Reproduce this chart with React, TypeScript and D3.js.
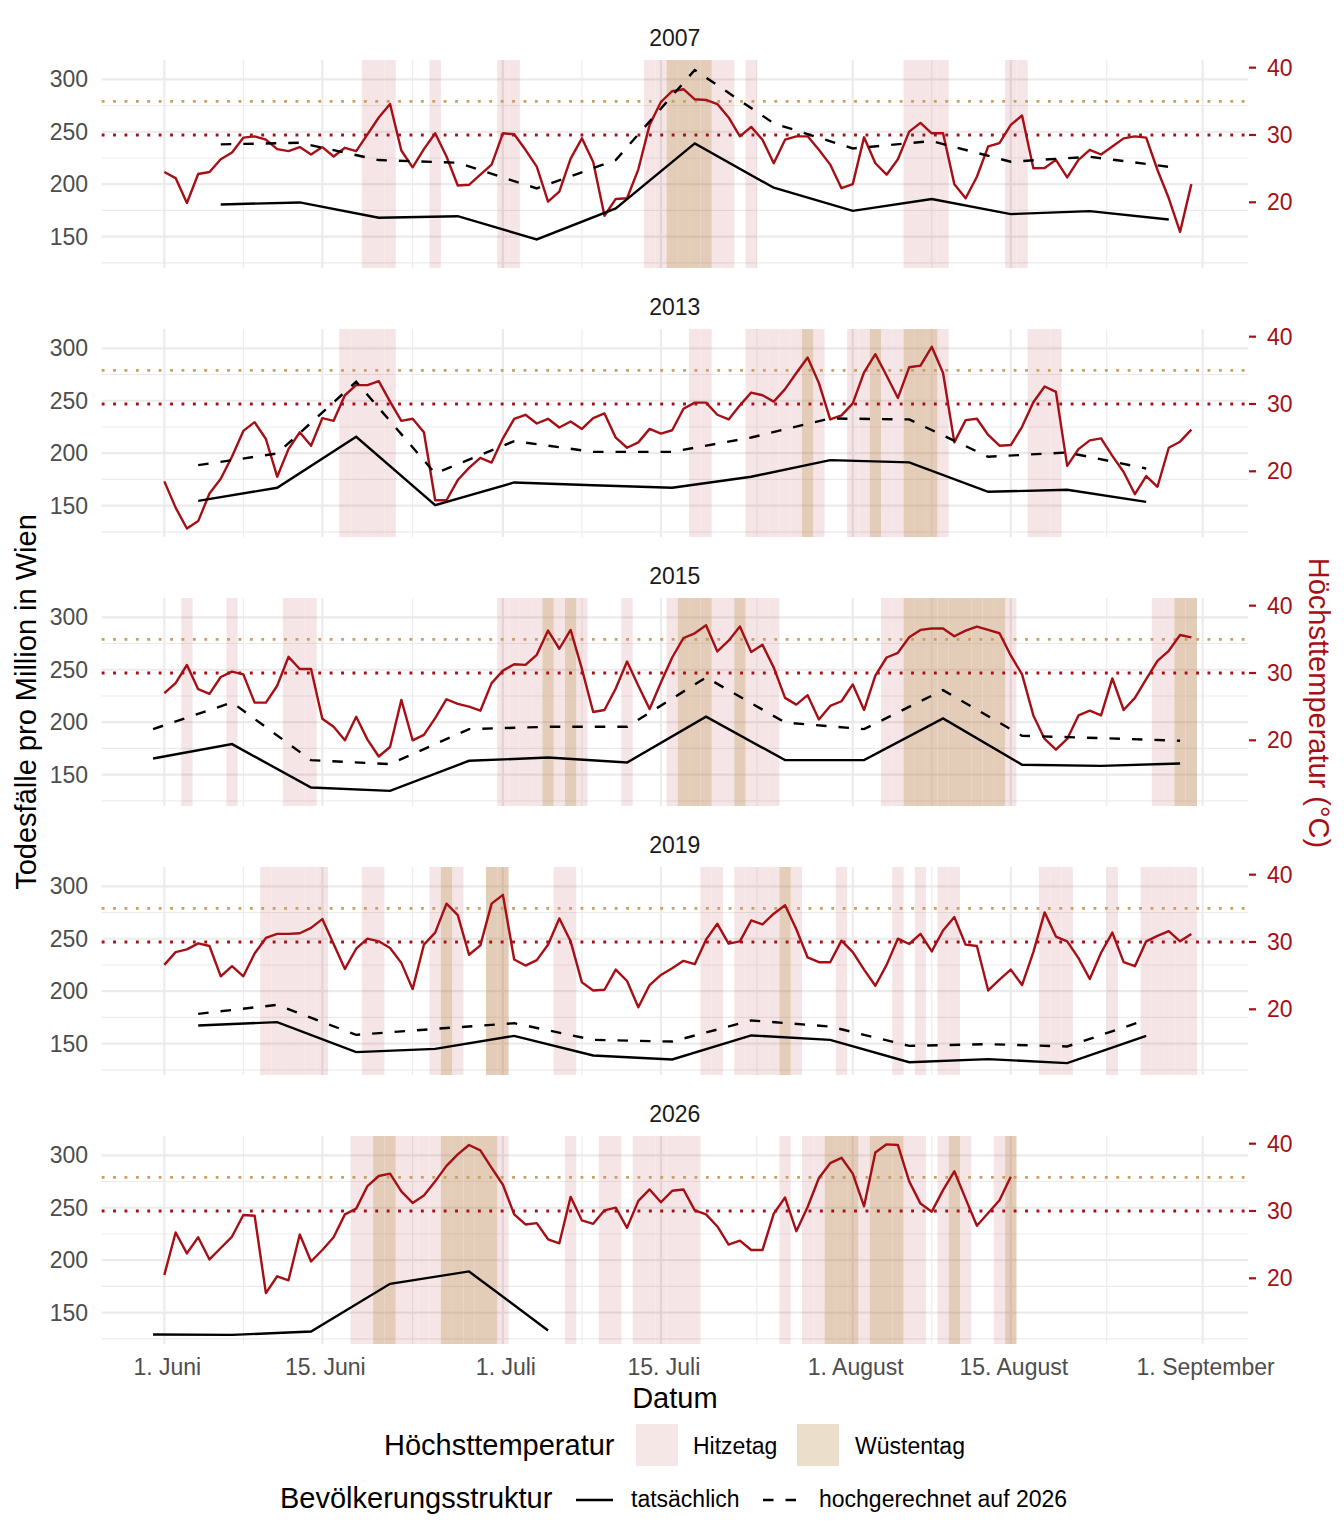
import React, { useEffect, useRef } from 'react';
import * as d3 from 'd3';

// Tägliche Höchsttemperatur (°C), ab 1. Juni
const tempStart = '06-01';
const temp2007 = [
  24.5, 23.6, 19.9, 24.2, 24.5, 26.4, 27.4, 29.6, 29.8, 29.3, 27.9, 27.6, 28.2, 27.1, 28.2, 26.8, 28.1, 27.6, 30.1, 32.6,
  34.6, 27.7, 25.2, 27.9, 30.25, 26.8, 22.5, 22.6, 24.1, 25.6,
  30.25, 30.1, 27.8, 25.3, 20.1, 21.6, 26.5, 29.5, 26.0, 18.0, 20.5, 20.6, 24.9, 31.5, 34.9, 36.5, 36.8, 35.3, 35.2, 34.6,
  32.6, 29.8, 31.2, 29.3, 25.8, 29.3, 29.8, 29.8, 27.8, 25.6, 22.1,
  22.7, 29.65, 25.8, 24.1, 26.4, 30.5, 31.8, 30.25, 30.25, 22.7, 20.6, 23.8, 28.3, 28.8, 31.5, 32.9, 25.05, 25.1, 26.3, 23.7,
  26.3, 27.8, 27.1, 28.3, 29.5, 29.8, 29.6, 24.8, 20.6, 15.6, 22.7,
];
const temp2013 = [
  18.5, 14.6, 11.5, 12.6, 16.7, 18.9, 22.2, 26.0, 27.3, 24.8, 19.2, 23.3, 25.8, 23.8, 27.9, 27.5, 31.3, 32.8, 32.8, 33.4,
  30.35, 27.5, 27.8, 25.8, 15.7, 15.7, 18.7, 20.5, 22.0, 21.3, 24.9, 27.8, 28.4, 27.1, 27.8, 26.5, 27.4, 26.3, 27.9, 28.6,
  25.0, 23.5, 24.3, 26.3, 25.6, 26.1, 29.3,
  30.2, 30.2, 28.4, 27.7, 29.8, 31.7, 31.3, 30.35, 32.2, 34.6, 36.9, 33.1, 27.7, 28.3, 30.1, 34.7, 37.4, 34.2, 30.9, 35.45,
  35.7, 38.5, 34.6, 24.3, 27.6, 27.8, 25.4, 23.8, 23.9, 26.6, 30.25, 32.6, 31.8, 20.8, 23.3, 24.6, 24.9, 22.3, 19.9, 16.6,
  19.3, 17.7, 23.5, 24.4, 26.2,
];
const temp2015 = [
  27.0, 28.5, 31.2, 27.6, 26.9, 29.4, 30.2, 29.8, 25.6, 25.6, 28.1, 32.4, 30.6, 30.6, 23.2, 22.0, 20.0, 23.5, 20.1, 17.6,
  19.0, 26.0, 20.0, 20.8, 23.3, 26.1, 25.4, 25.0, 24.4, 28.5, 30.35, 31.3, 31.2, 32.7, 36.3, 33.6, 36.4, 30.6, 24.2, 24.5,
  27.7, 31.7, 28.1, 24.65, 28.6, 32.3, 35.2,
  35.9, 37.1, 33.2, 34.8, 36.9, 33.1, 34.2, 30.8, 26.3, 25.3, 26.7, 23.1, 25.1, 25.8, 28.3, 24.5, 29.6, 32.3, 33.0, 35.3,
  36.4, 36.6, 36.6, 35.45, 36.3, 36.9, 36.4, 35.9, 32.6, 29.8, 23.7, 20.2, 18.6, 20.2, 23.7, 24.4, 23.7, 29.2, 24.5, 26.3,
  29.1, 31.8, 33.3, 35.65, 35.3,
];
const temp2019 = [
  26.6, 28.5, 28.9, 29.8, 29.4, 24.9, 26.4, 24.9, 28.3, 30.6, 31.2, 31.2, 31.3, 32.1, 33.4, 29.7, 26.0, 29.0, 30.5, 30.1,
  29.1, 26.9, 23.0, 29.6, 31.4, 35.7, 34.0, 28.1, 29.5, 35.7, 37.0, 27.4, 26.5, 27.3, 29.6, 33.5, 30.1, 24.0, 22.8, 22.9,
  25.9, 24.2, 20.3, 23.6, 25.1, 26.1, 27.2,
  26.7, 30.35, 32.7, 29.75, 30.1, 33.2, 32.6, 34.2, 35.45, 31.9, 27.7, 27.0, 27.0, 30.2, 28.5, 25.9, 23.5, 26.6, 30.5, 29.7,
  31.2, 28.6, 31.7, 33.7, 29.6, 29.4, 22.8, 24.4, 25.9, 23.6, 28.5, 34.4, 30.8, 30.1, 27.6, 24.5, 28.4, 31.4, 27.0, 26.4,
  30.1, 30.9, 31.6, 30.1, 31.2,
];
const temp2026 = [
  20.5, 26.8, 23.7, 26.1, 22.8, 24.5, 26.2, 29.4, 29.3, 17.8, 20.3, 19.7, 26.5, 22.5, 24.2, 26.1, 29.5, 30.35, 33.7, 35.2,
  35.55, 32.9, 31.2, 32.3, 34.4, 36.7, 38.4, 39.8, 39.0, 36.4, 33.9, 29.5, 28.0, 28.2, 25.8, 25.2, 32.1, 28.6, 28.1, 30.1,
  30.5, 27.5, 31.5, 33.2, 31.3, 33.0, 33.2,
  30.1, 29.5, 27.7, 25.0, 25.6, 24.2, 24.2, 29.6, 32.0, 27.0, 30.6, 34.9, 37.1, 37.9, 35.55, 30.7, 38.7, 39.9, 39.8, 34.4,
  31.1, 29.9, 33.1, 35.9, 31.8, 27.8, 29.7, 31.6, 35.1,
];

// Wöchentliche Todesfälle pro Million
const weeks2007 = ['06-06', '06-13', '06-20', '06-27', '07-04', '07-11', '07-18', '07-25', '08-01', '08-08', '08-15', '08-22', '08-29'];
const actual2007 = [180.7, 182.6, 168, 169.5, 147.3, 176.9, 238.9, 196.6, 174.6, 185.8, 171.5, 174.3, 166.4];
const projected2007 = [238, 239.5, 223, 220.4, 196, 223, 308.9, 258, 234.1, 241.1, 221.4, 226.1, 216.6];

const weeks2013 = ['06-04', '06-11', '06-18', '06-25', '07-02', '07-09', '07-16', '07-23', '07-30', '08-06', '08-13', '08-20', '08-27'];
const actual2013 = [154.6, 167, 215.6, 150.4, 172.1, 169.5, 167, 177.5, 193.4, 191.2, 163.2, 165.1, 153.6];
const projected2013 = [188.6, 199.7, 268.1, 180.7, 211.5, 201.3, 201.3, 215, 233.1, 232.2, 196.6, 200.7, 185.4];

const weeks2015 = ['05-31', '06-07', '06-14', '06-21', '06-28', '07-05', '07-12', '07-19', '07-26', '08-02', '08-09', '08-16', '08-23', '08-30'];
const actual2015 = [165.4, 179.1, 137.7, 134.5, 163.2, 166.3, 161.6, 205.2, 163.8, 163.8, 203.6, 159.4, 158.4, 160.6];
const projected2015 = [193.4, 218.8, 163.8, 160.0, 193.4, 195.6, 195.6, 242.7, 199.7, 193.4, 230.6, 187, 184.8, 182.3];

const weeks2019 = ['06-04', '06-11', '06-18', '06-25', '07-02', '07-09', '07-16', '07-23', '07-30', '08-06', '08-13', '08-20', '08-27'];
const actual2019 = [167.3, 170.5, 141.9, 145, 157.4, 138.7, 134.9, 157.8, 153.6, 132.3, 135.2, 131.4, 157.4];
const projected2019 = [178.4, 187, 158.4, 164.1, 169.5, 153.6, 152, 172.1, 166.3, 147.9, 149.5, 147.3, 172.7];

const weeks2026 = ['05-31', '06-07', '06-14', '06-21', '06-28', '07-05'];
const actual2026 = [129.1, 128.8, 132, 177.5, 189.3, 132.9];

const xTicks = ['06-01', '06-15', '07-01', '07-15', '08-01', '08-15', '09-01'];
const xTickLabels = ['1. Juni', '15. Juni', '1. Juli', '15. Juli', '1. August', '15. August', '1. September'];
const deathTicks = [150, 200, 250, 300];
const deathMinor = [125, 175, 225, 275];
const tempTicks = [20, 30, 40];
const hitzeGrenze = 30;
const wuestenGrenze = 35;

const panels = [
  { year: '2007', temp: temp2007, weeks: weeks2007, actual: actual2007, projected: projected2007 },
  { year: '2013', temp: temp2013, weeks: weeks2013, actual: actual2013, projected: projected2013 },
  { year: '2015', temp: temp2015, weeks: weeks2015, actual: actual2015, projected: projected2015 },
  { year: '2019', temp: temp2019, weeks: weeks2019, actual: actual2019, projected: projected2019 },
  { year: '2026', temp: temp2026, weeks: weeks2026, actual: actual2026, projected: null as number[] | null },
];

const md = (s: string) => {
  const [m, d] = s.split('-').map(Number);
  return new Date(Date.UTC(2026, m - 1, d));
};

const App: React.FC = () => {
  const svgRef = useRef<SVGSVGElement>(null);

  useEffect(() => {
    if (!svgRef.current) return;

    const width = 1344;
    const height = 1536;
    const left = 101.7;
    const right = 1248;
    const panelTop = 60;
    const panelH = 208;
    const panelStep = 269;
    const font = '"Liberation Sans", Arial, Helvetica, sans-serif';
    const red = '#A50F15';
    const tanLine = '#C9A063';
    const tanFill = '#BC9452';
    const grid = '#EBEBEB';

    const svg = d3.select(svgRef.current)
      .attr('width', width)
      .attr('height', height)
      .style('font-family', font)
      .html('');

    svg.append('rect').attr('width', width).attr('height', height).attr('fill', '#fff');

    const dayMs = 864e5;
    const june1 = md(tempStart).getTime();
    const x = d3.scaleUtc()
      .domain([new Date(june1 - 5.55 * dayMs), new Date(june1 + 96.02 * dayMs)])
      .range([left, right]);

    const majorDates = xTicks.map(md);
    const minorDates = majorDates.slice(1).map((d, i) => new Date((d.getTime() + majorDates[i].getTime()) / 2));

    panels.forEach((p, i) => {
      const top = panelTop + i * panelStep;
      const bottom = top + panelH;
      const yD = d3.scaleLinear().domain([120.1, 318.4]).range([bottom, top]);
      const yT = d3.scaleLinear().domain([10.24, 41.14]).range([bottom, top]);
      const g = svg.append('g');

      // Gitter
      deathMinor.forEach(v => {
        g.append('line').attr('x1', left).attr('x2', right).attr('y1', yD(v)).attr('y2', yD(v))
          .attr('stroke', grid).attr('stroke-width', 1.1);
      });
      minorDates.forEach(d => {
        g.append('line').attr('x1', x(d)).attr('x2', x(d)).attr('y1', top).attr('y2', bottom)
          .attr('stroke', grid).attr('stroke-width', 1.1);
      });
      deathTicks.forEach(v => {
        g.append('line').attr('x1', left).attr('x2', right).attr('y1', yD(v)).attr('y2', yD(v))
          .attr('stroke', grid).attr('stroke-width', 2.2);
      });
      majorDates.forEach(d => {
        g.append('line').attr('x1', x(d)).attr('x2', x(d)).attr('y1', top).attr('y2', bottom)
          .attr('stroke', grid).attr('stroke-width', 2.2);
      });

      const days = p.temp.map((t, k) => ({ date: d3.utcDay.offset(md(tempStart), k), t }));
      const half = (d: Date, s: number) => x(new Date(d.getTime() + s * dayMs / 2));

      // Hitzetage / Wüstentage
      g.append('g').attr('opacity', 0.1)
        .selectAll('rect')
        .data(days.filter(d => d.t >= hitzeGrenze))
        .join('rect')
        .attr('x', d => half(d.date, -1))
        .attr('width', d => half(d.date, 1) - half(d.date, -1))
        .attr('y', top)
        .attr('height', panelH)
        .attr('fill', red);

      g.append('g').attr('opacity', 0.3)
        .selectAll('rect')
        .data(days.filter(d => d.t >= wuestenGrenze))
        .join('rect')
        .attr('x', d => half(d.date, -1))
        .attr('width', d => half(d.date, 1) - half(d.date, -1))
        .attr('y', top)
        .attr('height', panelH)
        .attr('fill', tanFill);

      // Schwellen
      g.append('line').attr('x1', left).attr('x2', right).attr('y1', yT(wuestenGrenze)).attr('y2', yT(wuestenGrenze))
        .attr('stroke', tanLine).attr('stroke-width', 2.8).attr('stroke-dasharray', '2.85 8.55');
      g.append('line').attr('x1', left).attr('x2', right).attr('y1', yT(hitzeGrenze)).attr('y2', yT(hitzeGrenze))
        .attr('stroke', red).attr('stroke-width', 2.8).attr('stroke-dasharray', '2.85 8.55');

      // Temperatur
      const tempLine = d3.line<{ date: Date; t: number }>()
        .x(d => x(d.date))
        .y(d => yT(d.t));
      g.append('path').datum(days).attr('d', tempLine)
        .attr('fill', 'none').attr('stroke', red).attr('stroke-width', 2.4).attr('stroke-linejoin', 'round');

      // Todesfälle
      const deathLine = d3.line<{ date: Date; v: number }>()
        .x(d => x(d.date))
        .y(d => yD(d.v));
      if (p.projected) {
        const proj = p.weeks.map((w, k) => ({ date: md(w), v: p.projected![k] }));
        g.append('path').datum(proj).attr('d', deathLine)
          .attr('fill', 'none').attr('stroke', '#000').attr('stroke-width', 2.4)
          .attr('stroke-dasharray', '10.5 12');
      }
      const act = p.weeks.map((w, k) => ({ date: md(w), v: p.actual[k] }));
      g.append('path').datum(act).attr('d', deathLine)
        .attr('fill', 'none').attr('stroke', '#000').attr('stroke-width', 2.4);

      // Achsen
      deathTicks.forEach(v => {
        g.append('text').attr('x', 88).attr('y', yD(v)).attr('dy', '0.35em')
          .attr('text-anchor', 'end').attr('font-size', 23).attr('fill', '#4D4D4D').text(v);
      });
      tempTicks.forEach(v => {
        g.append('line').attr('x1', right + 1).attr('x2', right + 8).attr('y1', yT(v)).attr('y2', yT(v))
          .attr('stroke', red).attr('stroke-width', 2.2);
        g.append('text').attr('x', 1267).attr('y', yT(v)).attr('dy', '0.35em')
          .attr('font-size', 23).attr('fill', red).text(v);
      });

      g.append('text').attr('x', (left + right) / 2).attr('y', top - 22).attr('dy', '0.35em')
        .attr('text-anchor', 'middle').attr('font-size', 23).attr('fill', '#1A1A1A').text(p.year);
    });

    // x-Achse
    majorDates.forEach((d, i) => {
      svg.append('text').attr('x', x(d) + 3).attr('y', 1375).attr('text-anchor', 'middle')
        .attr('font-size', 23).attr('fill', '#4D4D4D').text(xTickLabels[i]);
    });
    svg.append('text').attr('x', (left + right) / 2).attr('y', 1408).attr('text-anchor', 'middle')
      .attr('font-size', 29).attr('fill', '#000').text('Datum');

    svg.append('text').attr('transform', 'translate(36,702) rotate(-90)').attr('text-anchor', 'middle')
      .attr('font-size', 29).attr('fill', '#000').text('Todesfälle pro Million in Wien');
    svg.append('text').attr('transform', 'translate(1309,703) rotate(90)').attr('text-anchor', 'middle')
      .attr('font-size', 29).attr('fill', red).text('Höchsttemperatur (°C)');

    // Legenden
    const lg = svg.append('g');
    lg.append('text').attr('x', 384).attr('y', 1455).attr('font-size', 29).attr('fill', '#000').text('Höchsttemperatur');
    lg.append('rect').attr('x', 636).attr('y', 1424).attr('width', 42).attr('height', 42)
      .attr('fill', red).attr('opacity', 0.1);
    lg.append('text').attr('x', 693).attr('y', 1454).attr('font-size', 23).attr('fill', '#000').text('Hitzetag');
    lg.append('rect').attr('x', 797).attr('y', 1424).attr('width', 42).attr('height', 42)
      .attr('fill', tanFill).attr('opacity', 0.3);
    lg.append('text').attr('x', 855).attr('y', 1454).attr('font-size', 23).attr('fill', '#000').text('Wüstentag');

    lg.append('text').attr('x', 280).attr('y', 1508).attr('font-size', 29).attr('fill', '#000').text('Bevölkerungsstruktur');
    lg.append('line').attr('x1', 576).attr('x2', 613).attr('y1', 1500).attr('y2', 1500)
      .attr('stroke', '#000').attr('stroke-width', 2.4);
    lg.append('text').attr('x', 631).attr('y', 1507).attr('font-size', 23).attr('fill', '#000').text('tatsächlich');
    lg.append('line').attr('x1', 763).attr('x2', 799).attr('y1', 1500).attr('y2', 1500)
      .attr('stroke', '#000').attr('stroke-width', 2.4).attr('stroke-dasharray', '10.5 12');
    lg.append('text').attr('x', 819).attr('y', 1507).attr('font-size', 23).attr('fill', '#000').text('hochgerechnet auf 2026');
  }, []);

  return (
    <div style={{ position: 'absolute', left: 0, top: 0 }}>
      <svg ref={svgRef}></svg>
    </div>
  );
};

export default App;
